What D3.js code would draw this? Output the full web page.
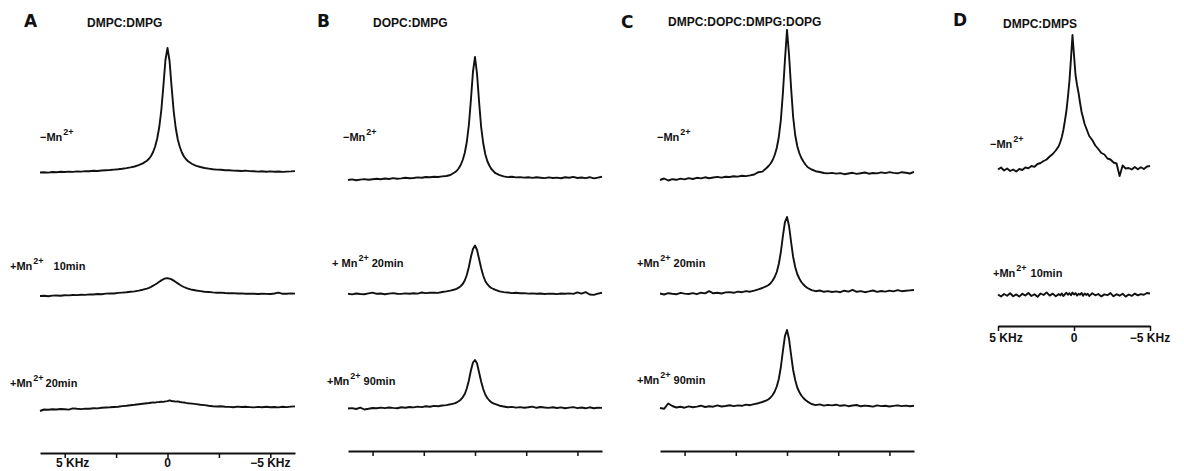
<!DOCTYPE html>
<html>
<head>
<meta charset="utf-8">
<script src="https://cdn.jsdelivr.net/npm/d3@7"></script>
<style>
  body { margin: 0; background: #fff; }
  svg text { font-family: "Liberation Sans", Arial, sans-serif; fill: #111; }
</style>
</head>
<body>
<svg id="chart" width="1184" height="471"></svg>
<script>
// frequency grids (kHz), left = +, right = -
const freqABC = [6.2,6.0,5.8,5.6,5.4,5.2,5.0,4.8,4.6,4.4,4.2,4.0,3.8,3.6,3.4,3.2,3.0,2.8,2.6,2.4,2.2,2.0,1.8,1.6,1.4,1.2,1.0,
  0.9,0.8,0.7,0.6,0.5,0.4,0.3,0.2,0.1,0,-0.1,-0.2,-0.3,-0.4,-0.5,-0.6,-0.7,-0.8,-0.9,
  -1.0,-1.2,-1.4,-1.6,-1.8,-2.0,-2.2,-2.4,-2.6,-2.8,-3.0,-3.2,-3.4,-3.6,-3.8,-4.0,-4.2,-4.4,-4.6,-4.8,-5.0,-5.2,-5.4,-5.6,-5.8,-6.0,-6.2];
const freqD = [5.0,4.8,4.6,4.4,4.2,4.0,3.8,3.6,3.4,3.2,3.0,2.8,2.6,2.4,2.2,2.0,1.8,1.6,1.4,1.2,1.0,
  0.9,0.8,0.7,0.6,0.5,0.4,0.3,0.2,0.1,0,-0.1,-0.2,-0.3,-0.4,-0.5,-0.6,-0.7,-0.8,-0.9,
  -1.0,-1.2,-1.4,-1.6,-1.8,-2.0,-2.2,-2.4,-2.6,-2.8,-3.0,-3.2,-3.4,-3.6,-3.8,-4.0,-4.2,-4.4,-4.6,-4.8,-5.0];

// signal intensities (arbitrary units)
const specA1 = [-0.5,-0.2,-0.6,0.0,-0.3,0.2,0.0,0.4,0.1,0.6,0.4,0.9,0.8,1.2,1.0,1.5,1.8,2.0,2.4,2.8,3.3,3.9,4.6,5.5,6.8,8.6,11.3,
  13.2,16.0,20.0,25.5,33.5,45,62,86,112,124,111,85,61,44,32.5,25,19.5,15.5,12.8,
  10.8,8.0,6.2,5.0,4.0,3.4,2.8,2.4,2.2,1.8,1.7,1.4,1.3,1.0,1.4,0.9,0.8,0.4,0.7,0.3,0.6,0.2,0.5,0.1,0.4,0.6,0.9];
const specA2 = [0.0,0.3,-0.2,0.4,0.5,0.2,0.8,0.6,1.0,0.9,1.3,1.1,1.6,1.5,2.0,1.8,2.4,2.6,2.5,3.1,3.4,3.7,4.2,4.6,5.4,6.3,7.4,
  8.2,9.2,10.3,11.5,12.8,14.2,15.6,16.8,17.6,17.8,17.4,16.6,15.4,14.0,12.6,11.2,10.0,9.0,8.1,
  7.4,6.2,5.5,4.9,4.3,4.0,3.6,3.3,3.4,3.0,2.8,2.9,2.5,2.6,2.3,2.4,2.2,2.0,2.3,2.1,2.0,2.5,3.4,2.2,2.3,2.6,2.4];
const specA3 = [-1.0,0.5,0.2,0.8,0.5,1.0,0.7,0.4,1.6,1.2,0.9,1.4,1.3,1.8,1.6,2.2,2.5,2.7,3.0,3.3,3.9,4.3,4.8,5.2,5.8,6.3,6.8,
  7.0,7.3,7.6,7.4,7.9,8.0,8.3,8.1,8.6,8.9,9.6,9.0,8.7,8.4,8.6,8.0,7.7,7.5,7.1,
  6.8,6.4,5.9,5.2,4.9,4.3,3.8,3.5,3.8,3.3,3.1,2.8,3.4,3.0,3.2,2.9,2.6,3.1,2.8,3.2,2.7,3.0,2.6,3.3,2.9,3.4,3.6];
const specB1 = [0.0,0.6,-0.3,0.4,0.9,0.2,0.8,1.3,0.7,1.5,1.0,1.9,1.2,1.6,2.3,1.7,2.0,2.6,2.2,3.0,2.7,3.2,3.0,3.6,4.0,5.0,7.5,
  9.0,11.5,15,20,27,38,55,80,108,123,106,78,53,37,26,19,14.5,11,8.8,
  6.8,4.8,3.6,2.9,3.3,2.6,2.9,2.4,2.8,2.1,2.7,2.3,1.9,2.6,2.0,2.4,1.8,2.7,2.2,3.1,2.0,2.5,1.9,2.8,1.6,2.4,3.2];
const specB2 = [0.2,-0.4,0.5,0.0,-0.3,0.6,1.4,0.2,0.5,-0.2,0.4,0.9,0.3,0.1,0.6,0.2,0.8,0.4,1.5,0.9,1.2,1.4,1.1,2.0,2.6,3.4,4.5,
  5.2,6.3,7.8,10.0,13.5,19,27,37,45,48.5,44,35,26,18.5,13,9.8,7.6,6.0,5.0,
  4.2,2.6,1.9,1.5,0.9,1.3,0.7,0.9,0.4,0.6,0.2,0.5,0.0,0.4,0.3,-0.1,0.5,0.2,0.6,0.1,1.6,0.3,1.8,-0.5,-0.9,0.4,1.2];
const specB3 = [0.0,0.4,-0.5,0.8,-1.0,-0.3,0.5,0.2,0.9,0.4,1.0,0.6,0.3,1.2,0.8,1.5,1.1,1.9,1.4,2.3,1.8,2.6,2.2,3.0,3.4,4.2,5.2,
  6.0,7.2,8.8,11.2,14.5,20,28,38,46,48.5,45,36,27,19.5,14,10.5,8.0,6.2,5.1,
  4.3,2.8,2.0,1.2,1.6,0.9,1.4,0.8,1.2,1.9,0.7,1.5,1.0,0.6,1.3,0.5,1.1,0.3,0.9,1.4,0.4,1.0,0.2,1.2,0.3,0.8,0.6];
const specC1 = [0.0,1.5,-0.5,0.8,0.2,1.4,0.6,1.9,1.0,2.2,1.6,2.7,1.8,2.5,3.1,2.4,3.3,3.0,3.8,3.4,4.2,3.9,4.6,5.5,7.8,8.4,12.0,
  14.0,16.5,20,25,32,43,60,87,120,150,125,92,63,45,34,27,22,18.5,15.5,
  13.0,10.5,8.8,8.0,7.0,6.6,7.1,6.4,6.9,5.8,6.5,7.2,6.1,6.8,7.5,6.3,7.0,6.6,7.6,6.9,7.9,7.1,6.7,7.8,7.2,6.5,8.2];
const specC2 = [0.5,-0.5,0.8,0.2,-0.3,1.1,0.4,0.0,0.9,-0.2,1.3,0.6,2.8,0.7,1.2,0.5,1.6,1.9,1.2,2.4,1.8,2.9,2.3,3.4,4.6,6.0,7.8,
  9.0,10.8,13.5,17,22,30,42,58,72,77,68,52,37,27,20,15.5,12,9.5,7.5,
  6.0,3.8,2.8,3.5,2.2,2.9,2.0,2.6,1.8,3.3,2.4,4.2,2.2,2.9,1.8,2.6,3.5,2.1,3.0,2.4,3.4,2.6,3.9,2.8,3.2,3.6,4.0];
const specC3 = [0.0,-0.8,4.5,2.0,0.5,1.2,0.3,1.6,0.7,1.4,2.3,1.0,1.8,1.3,2.6,1.5,2.0,2.8,1.9,2.6,2.2,3.4,2.8,3.9,4.8,6.0,7.6,
  8.8,10.5,13,16.5,21.5,29,41,57,72,78,69,53,38,28,20.5,16,12.5,10,8,
  6.4,4.0,2.9,3.6,2.4,3.1,2.6,3.3,2.2,2.8,1.8,2.5,3.0,1.7,2.4,2.0,1.4,2.6,1.9,2.3,1.5,2.1,2.6,1.9,2.4,1.8,2.2];
const specD1 = [1.5,3.5,0.5,2.5,0.0,1.5,-0.5,2.0,1.0,3.5,2.8,5.0,4.2,7.0,8.0,10.0,11.5,14.5,17,20.5,25,
  29,34,41,50,60,74,90,112,136,116,96,86,78,68,59,53,47,43,39,
  35,31,25.5,22,18,16.5,12.5,11.5,8.5,7.5,-5.0,5.5,2.5,3.0,1.5,4.0,1.8,3.8,2.0,4.5,5.0];
const specD2 = [0.5,-1.5,1.0,-0.8,1.8,-1.2,0.6,-1.6,1.2,-0.5,2.0,-1.0,0.8,-1.8,1.5,0.0,2.6,-0.6,1.4,-1.2,0.9,
  -0.4,1.6,-1.0,0.7,2.2,0.2,1.8,-0.2,2.4,0.5,1.9,-0.6,1.2,0.3,2.0,-0.8,1.5,0.1,1.3,
  -1.1,1.7,-0.3,1.0,-1.4,0.6,-0.2,1.9,-1.3,0.8,-0.7,1.2,-1.6,0.5,-0.9,1.4,-0.4,0.9,0.2,2.0,1.5];

const panelLetters = ["A", "B", "C", "D"];
const lipidTitles = ["DMPC:DMPG", "DOPC:DMPG", "DMPC:DOPC:DMPG:DOPG", "DMPC:DMPS"];
const ticksABC = [5, 2.5, 0, -2.5, -5];
const ticksD = [5, 0, -5];
const tickLabels = [[5, "5 KHz"], [0, "0"], [-5, "\u22125 KHz"]];
// [prefix, superscript, suffix]
const labMinus = ["\u2212Mn", "2+", ""];
const labA10 = ["+Mn", "2+", "10min"];
const labA20 = ["+Mn", "2+", "20min"];
const lab20 = ["+ Mn", "2+", "20min"];
const lab90 = ["+Mn", "2+", "90min"];
const labC20 = ["+Mn", "2+", "20min"];
const labD10 = ["+Mn", "2+", "10min"];

const svg = d3.select("#chart");

const panels = [
  { x0: 40, x1: 295, dom: [6.2, -6.2], freq: freqABC, ticks: ticksABC, axisY: 453, tickY: 467,
    letter: [24, 27], title: [87, 27],
    rows: [ { spec: specA1, base: 172, lab: labMinus, lx: 40, ly: 141, gap: 4 },
            { spec: specA2, base: 296, lab: labA10, lx: 10, ly: 270, gap: 10 },
            { spec: specA3, base: 410, lab: labA20, lx: 10, ly: 387, gap: 2 } ] },
  { x0: 348, x1: 602, dom: [6.2, -6.2], freq: freqABC, ticks: ticksABC, axisY: 451, tickY: null,
    letter: [317, 27], title: [373, 27],
    rows: [ { spec: specB1, base: 180, lab: labMinus, lx: 343, ly: 141, gap: 4 },
            { spec: specB2, base: 294, lab: lab20, lx: 332, ly: 267, gap: 3 },
            { spec: specB3, base: 408.5, lab: lab90, lx: 327, ly: 385, gap: 3 } ] },
  { x0: 660, x1: 914, dom: [6.2, -6.2], freq: freqABC, ticks: ticksABC, axisY: 451, tickY: null,
    letter: [621, 28], title: [668, 26],
    rows: [ { spec: specC1, base: 180, lab: labMinus, lx: 657, ly: 141, gap: 4 },
            { spec: specC2, base: 294, lab: labC20, lx: 637, ly: 267, gap: 3 },
            { spec: specC3, base: 408, lab: lab90, lx: 637, ly: 384, gap: 3 } ] },
  { x0: 998, x1: 1150, dom: [5, -5], freq: freqD, ticks: ticksD, axisY: 326, tickY: 342,
    letter: [953, 26], title: [1003, 28],
    rows: [ { spec: specD1, base: 171, lab: labMinus, lx: 990, ly: 148, gap: 4 },
            { spec: specD2, base: 295, lab: labD10, lx: 993, ly: 277, gap: 4 } ] }
];

panels.forEach((p, i) => {
  const g = svg.append("g");
  const x = d3.scaleLinear().domain(p.dom).range([p.x0, p.x1]);

  g.append("text").attr("x", p.letter[0]).attr("y", p.letter[1])
    .style("font-size", "17px").style("font-weight", "bold")
    .style("font-family", "'DejaVu Sans', sans-serif")
    .text(panelLetters[i]);
  g.append("text").attr("x", p.title[0]).attr("y", p.title[1])
    .style("font-size", "12px").style("font-weight", "bold")
    .text(lipidTitles[i]);

  p.rows.forEach(r => {
    const y = d3.scaleLinear().domain([0, 100]).range([r.base, r.base - 100]);
    const pts = d3.zip(p.freq, r.spec);
    const line = d3.line().x(d => x(d[0])).y(d => y(d[1]));
    g.append("path").datum(pts)
      .attr("d", line)
      .attr("fill", "none")
      .attr("stroke", "#111")
      .attr("stroke-width", 1.9)
      .attr("stroke-linejoin", "round");

    const t = g.append("text").attr("x", r.lx).attr("y", r.ly)
      .style("font-size", "11px").style("font-weight", "bold");
    t.append("tspan").text(r.lab[0]);
    t.append("tspan").attr("dy", -6).attr("dx", 1).style("font-size", "9px").text(r.lab[1]);
    if (r.lab[2]) t.append("tspan").attr("dy", 6).attr("dx", r.gap).text(r.lab[2]);
  });

  const axis = d3.axisBottom(x).tickValues(p.ticks).tickSize(5).tickSizeOuter(0).tickFormat("");
  const ag = g.append("g").attr("transform", `translate(0,${p.axisY})`).call(axis);
  ag.select(".domain").attr("stroke", "#111").attr("stroke-width", 1.8);
  ag.selectAll(".tick line").attr("stroke", "#111").attr("stroke-width", 1.5);

  if (p.tickY) {
    tickLabels.forEach(([v, s]) => {
      const off = v > 0 ? 8 : 0;
      g.append("text").attr("x", x(v) + off).attr("y", p.tickY)
        .attr("text-anchor", "middle")
        .style("font-size", "12px").style("font-weight", "bold")
        .text(s);
    });
  }
});
</script>
</body>
</html>
